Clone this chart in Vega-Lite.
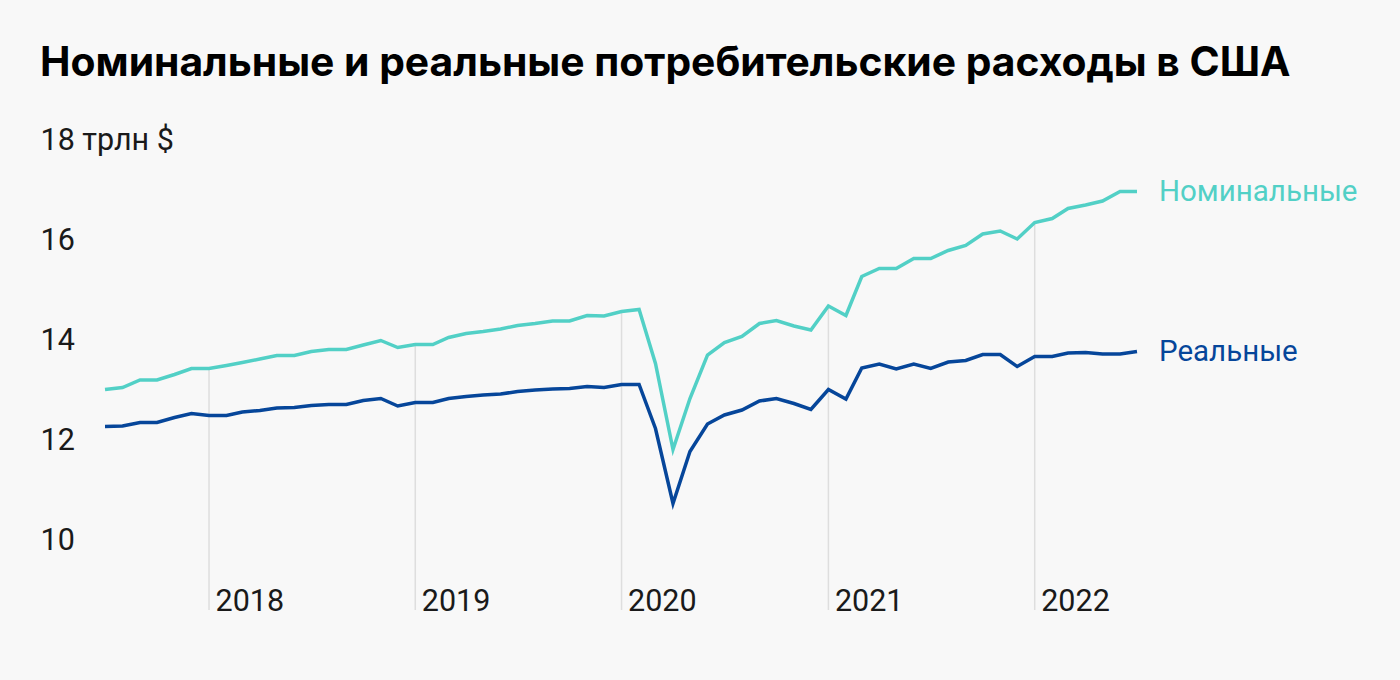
{
  "$schema": "https://vega.github.io/schema/vega-lite/v6.json",
  "width": 1032,
  "height": 490,
  "autosize": {"type": "none"},
  "padding": {"left": 105, "top": 120, "right": 263, "bottom": 70},
  "background": "#f8f8f8",
  "title": {
    "text": "Номинальные и реальные потребительские расходы в США",
    "anchor": "start",
    "frame": "bounds",
    "font": "Inter",
    "fontWeight": 700,
    "fontSize": 40.8,
    "color": "#000000",
    "baseline": "alphabetic",
    "offset": 3
  },
  "config": {
    "view": {"stroke": null},
    "axis": {
      "domain": false,
      "ticks": false,
      "tickSize": 0,
      "grid": false,
      "labelFont": "Roboto",
      "labelFontSize": 30.5,
      "labelColor": "#1a1a1a"
    }
  },
  "data": {
    "values": [
      {"date": "2017-07-01", "Номинальные": 13.01, "Реальные": 12.27},
      {"date": "2017-08-01", "Номинальные": 13.05, "Реальные": 12.28},
      {"date": "2017-09-01", "Номинальные": 13.20, "Реальные": 12.35},
      {"date": "2017-10-01", "Номинальные": 13.20, "Реальные": 12.35},
      {"date": "2017-11-01", "Номинальные": 13.31, "Реальные": 12.45},
      {"date": "2017-12-01", "Номинальные": 13.43, "Реальные": 12.53},
      {"date": "2018-01-01", "Номинальные": 13.43, "Реальные": 12.49},
      {"date": "2018-02-01", "Номинальные": 13.49, "Реальные": 12.49},
      {"date": "2018-03-01", "Номинальные": 13.55, "Реальные": 12.56},
      {"date": "2018-04-01", "Номинальные": 13.62, "Реальные": 12.59},
      {"date": "2018-05-01", "Номинальные": 13.69, "Реальные": 12.64},
      {"date": "2018-06-01", "Номинальные": 13.69, "Реальные": 12.65},
      {"date": "2018-07-01", "Номинальные": 13.77, "Реальные": 12.69},
      {"date": "2018-08-01", "Номинальные": 13.81, "Реальные": 12.71},
      {"date": "2018-09-01", "Номинальные": 13.81, "Реальные": 12.71},
      {"date": "2018-10-01", "Номинальные": 13.90, "Реальные": 12.79},
      {"date": "2018-11-01", "Номинальные": 13.99, "Реальные": 12.83},
      {"date": "2018-12-01", "Номинальные": 13.85, "Реальные": 12.68},
      {"date": "2019-01-01", "Номинальные": 13.91, "Реальные": 12.75},
      {"date": "2019-02-01", "Номинальные": 13.91, "Реальные": 12.75},
      {"date": "2019-03-01", "Номинальные": 14.05, "Реальные": 12.83},
      {"date": "2019-04-01", "Номинальные": 14.13, "Реальные": 12.87},
      {"date": "2019-05-01", "Номинальные": 14.17, "Реальные": 12.90},
      {"date": "2019-06-01", "Номинальные": 14.22, "Реальные": 12.92},
      {"date": "2019-07-01", "Номинальные": 14.29, "Реальные": 12.97},
      {"date": "2019-08-01", "Номинальные": 14.33, "Реальные": 13.00},
      {"date": "2019-09-01", "Номинальные": 14.38, "Реальные": 13.02},
      {"date": "2019-10-01", "Номинальные": 14.38, "Реальные": 13.03},
      {"date": "2019-11-01", "Номинальные": 14.49, "Реальные": 13.07},
      {"date": "2019-12-01", "Номинальные": 14.48, "Реальные": 13.05},
      {"date": "2020-01-01", "Номинальные": 14.57, "Реальные": 13.11},
      {"date": "2020-02-01", "Номинальные": 14.61, "Реальные": 13.11},
      {"date": "2020-03-01", "Номинальные": 13.53, "Реальные": 12.23},
      {"date": "2020-04-01", "Номинальные": 11.81, "Реальные": 10.73},
      {"date": "2020-05-01", "Номинальные": 12.83, "Реальные": 11.77},
      {"date": "2020-06-01", "Номинальные": 13.70, "Реальные": 12.32},
      {"date": "2020-07-01", "Номинальные": 13.95, "Реальные": 12.50},
      {"date": "2020-08-01", "Номинальные": 14.07, "Реальные": 12.60},
      {"date": "2020-09-01", "Номинальные": 14.33, "Реальные": 12.78},
      {"date": "2020-10-01", "Номинальные": 14.39, "Реальные": 12.83},
      {"date": "2020-11-01", "Номинальные": 14.28, "Реальные": 12.73},
      {"date": "2020-12-01", "Номинальные": 14.20, "Реальные": 12.61},
      {"date": "2021-01-01", "Номинальные": 14.68, "Реальные": 13.01},
      {"date": "2021-02-01", "Номинальные": 14.49, "Реальные": 12.82},
      {"date": "2021-03-01", "Номинальные": 15.27, "Реальные": 13.44},
      {"date": "2021-04-01", "Номинальные": 15.43, "Реальные": 13.52},
      {"date": "2021-05-01", "Номинальные": 15.43, "Реальные": 13.42},
      {"date": "2021-06-01", "Номинальные": 15.63, "Реальные": 13.52},
      {"date": "2021-07-01", "Номинальные": 15.63, "Реальные": 13.43},
      {"date": "2021-08-01", "Номинальные": 15.79, "Реальные": 13.56},
      {"date": "2021-09-01", "Номинальные": 15.89, "Реальные": 13.59},
      {"date": "2021-10-01", "Номинальные": 16.12, "Реальные": 13.71},
      {"date": "2021-11-01", "Номинальные": 16.18, "Реальные": 13.71},
      {"date": "2021-12-01", "Номинальные": 16.02, "Реальные": 13.47},
      {"date": "2022-01-01", "Номинальные": 16.35, "Реальные": 13.67},
      {"date": "2022-02-01", "Номинальные": 16.43, "Реальные": 13.67},
      {"date": "2022-03-01", "Номинальные": 16.63, "Реальные": 13.74},
      {"date": "2022-04-01", "Номинальные": 16.70, "Реальные": 13.75},
      {"date": "2022-05-01", "Номинальные": 16.78, "Реальные": 13.72},
      {"date": "2022-06-01", "Номинальные": 16.97, "Реальные": 13.72},
      {"date": "2022-07-01", "Номинальные": 16.97, "Реальные": 13.77}
    ]
  },
  "transform": [{"fold": ["Номинальные", "Реальные"], "as": ["series", "value"]}],
  "encoding": {
    "x": {
      "field": "date",
      "type": "temporal",
      "title": null,
      "scale": {"type": "utc", "domain": [{"year": 2017, "month": 7, "date": 1, "utc": true}, {"year": 2022, "month": 7, "date": 1, "utc": true}]},
      "axis": {
        "values": [
          {"year": 2018, "month": 1, "date": 1, "utc": true},
          {"year": 2019, "month": 1, "date": 1, "utc": true},
          {"year": 2020, "month": 1, "date": 1, "utc": true},
          {"year": 2021, "month": 1, "date": 1, "utc": true},
          {"year": 2022, "month": 1, "date": 1, "utc": true}
        ],
        "labelExpr": "utcFormat(datum.value, '%Y')",
        "labelAlign": "left",
        "labelBaseline": "alphabetic",
        "labelPadding": 0,
        "labelOffset": 6,
        "labelFlush": false,
        "labelOverlap": false
      }
    },
    "y": {
      "field": "value",
      "type": "quantitative",
      "title": null,
      "scale": {"domain": [8.6, 18.4], "nice": false, "zero": false},
      "axis": {
        "values": [10, 12, 14, 16, 18],
        "labelExpr": "datum.value == 18 ? '18 трлн $' : datum.label",
        "labelAlign": "left",
        "labelBaseline": "middle",
        "labelPadding": 65,
        "labelFlush": false,
        "labelOverlap": false
      }
    }
  },
  "layer": [
    {
      "transform": [{"filter": "utcmonth(toDate(datum.date)) === 0 && datum.series === 'Номинальные'"}],
      "mark": {"type": "rule", "color": "#dedede", "strokeWidth": 1.5},
      "encoding": {
        "y2": {"datum": 8.6}
      }
    },
    {
      "mark": {"type": "line", "strokeWidth": 3.5, "strokeJoin": "miter", "strokeCap": "butt"},
      "encoding": {
        "color": {
          "field": "series",
          "type": "nominal",
          "scale": {"domain": ["Номинальные", "Реальные"], "range": ["#52d0c6", "#06469a"]},
          "legend": null
        }
      }
    },
    {
      "transform": [
        {"filter": "utcyear(toDate(datum.date)) === 2022 && utcmonth(toDate(datum.date)) === 6"}
      ],
      "mark": {"type": "text", "align": "left", "baseline": "middle", "dx": 22, "font": "Roboto", "fontSize": 29.5},
      "encoding": {
        "text": {"field": "series"},
        "color": {"field": "series", "type": "nominal", "legend": null}
      }
    }
  ]
}
